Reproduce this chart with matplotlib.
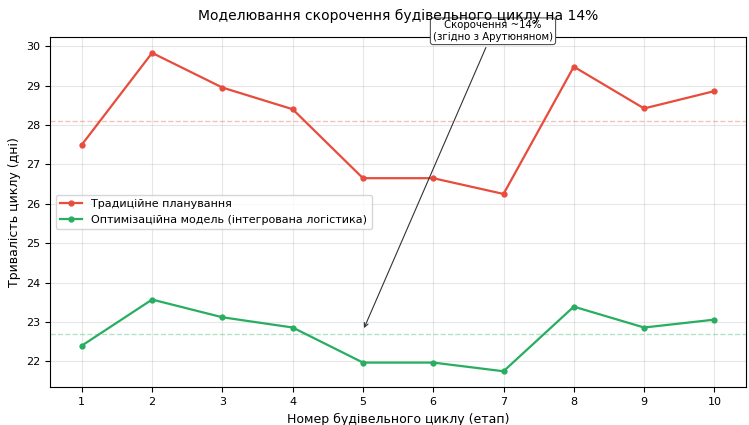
import matplotlib.pyplot as plt
import numpy as np

cycles = [1, 2, 3, 4, 5, 6, 7, 8, 9, 10]
traditional = [27.5, 29.83, 28.95, 28.4, 26.65, 26.65, 26.25, 29.48, 28.42, 28.86]
optimized = [22.4, 23.57, 23.12, 22.86, 21.97, 21.97, 21.75, 23.39, 22.86, 23.06]


def plot_results():
    fig, ax = plt.subplots(figsize=(7.49, 4.25), dpi=100)

    ax.plot(cycles, traditional, 'o-', color='#e74c3c', lw=1.6, ms=3.5,
            label='Традиційне планування')
    ax.plot(cycles, optimized, 'o-', color='#27ae60', lw=1.6, ms=3.5,
            label='Оптимізаційна модель (інтегрована логістика)')

    # mean levels
    ax.axhline(np.mean(traditional), color='#e74c3c', ls='--', lw=1, alpha=0.35)
    ax.axhline(np.mean(optimized), color='#27ae60', ls='--', lw=1, alpha=0.35)

    ax.annotate('Скорочення ~14%\n(згідно з Арутюняном)',
                xy=(5, 22.78), xytext=(6.85, 30.38),
                ha='center', va='center', fontsize=7.3,
                bbox=dict(boxstyle='round,pad=0.25', fc='white', ec='#555555', lw=0.8),
                arrowprops=dict(arrowstyle='->', color='#333333', lw=0.8),
                annotation_clip=False)

    ax.set_xticks(cycles)
    ax.tick_params(labelsize=8)
    ax.set_xlabel('Номер будівельного циклу (етап)', fontsize=9)
    ax.set_ylabel('Тривалість циклу (дні)', fontsize=9)
    ax.set_title('Моделювання скорочення будівельного циклу на 14%', fontsize=10, pad=12)
    ax.legend(loc='center left', fontsize=8)
    ax.grid(True, alpha=0.3)

    fig.subplots_adjust(left=0.067, right=0.996, top=0.913, bottom=0.089)
    fig.savefig('out.png')
    plt.close(fig)


if __name__ == "__main__":
    plot_results()
